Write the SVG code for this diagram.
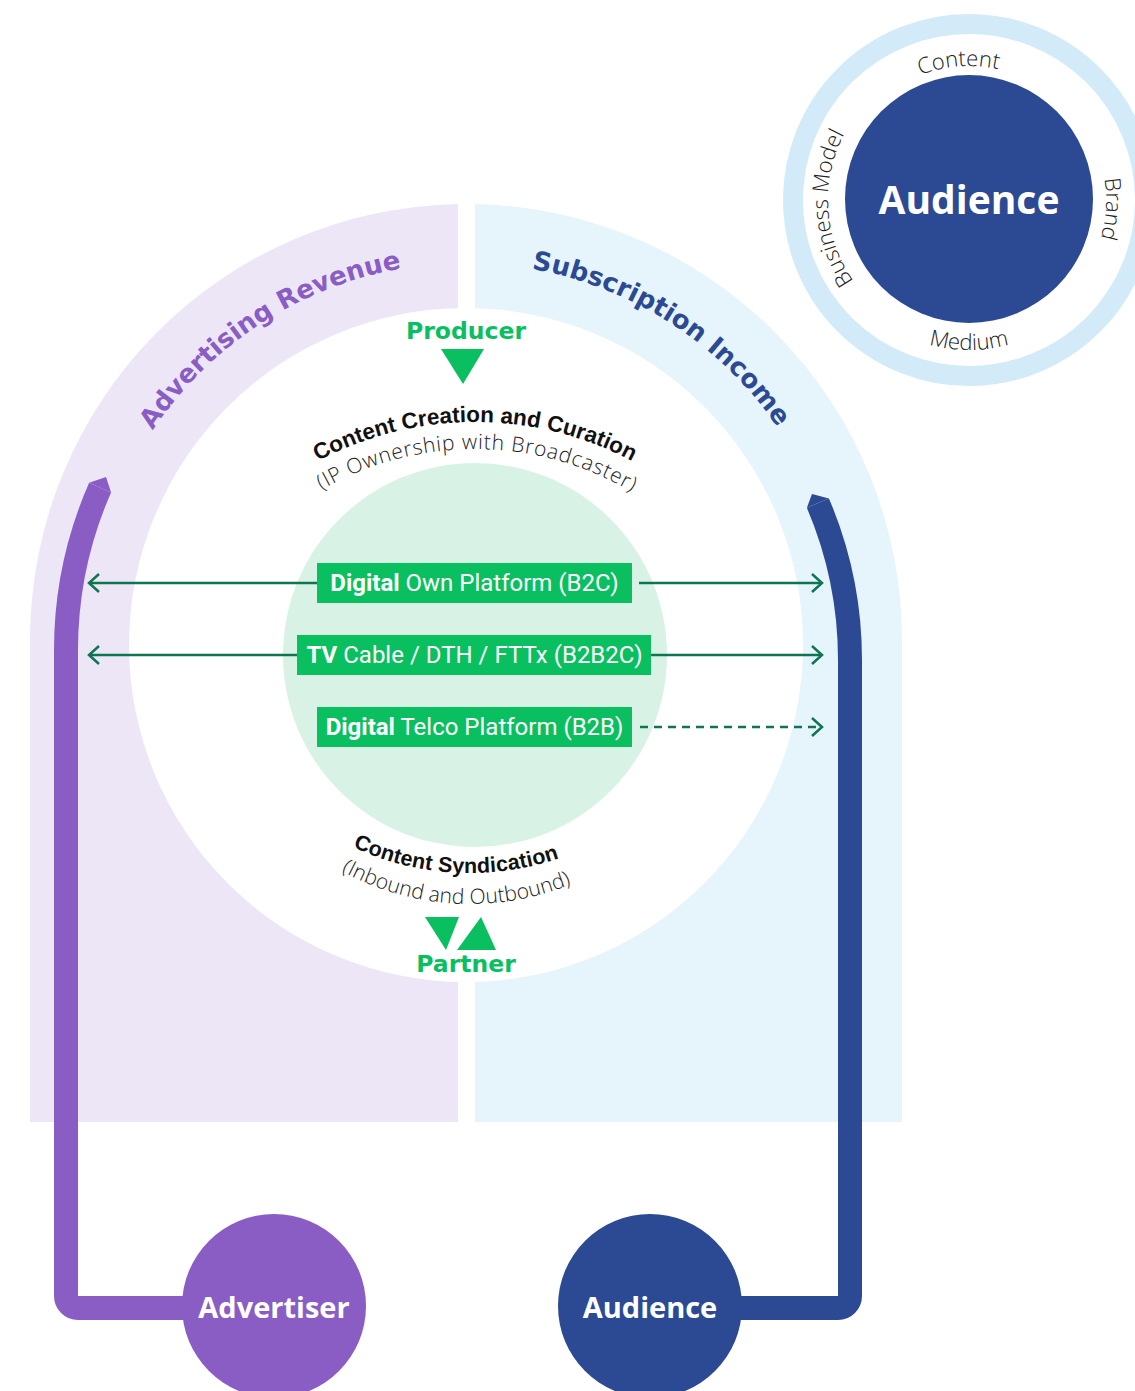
<svg xmlns="http://www.w3.org/2000/svg" width="1135" height="1391" viewBox="0 0 1135 1391">
<style>
.arcTitle{font-family:"DejaVu Sans",Verdana,sans-serif;font-weight:bold;font-size:26px}
.role{font-family:"DejaVu Sans",Verdana,sans-serif;font-weight:bold;font-size:23.5px;fill:#0ABF5F;text-anchor:middle}
.curveBold{font-family:"Liberation Sans",Arial,sans-serif;font-weight:bold;font-size:22.5px;fill:#111}
.curveLight{font-family:"Open Sans","Liberation Sans",sans-serif;font-weight:300;font-size:21px;fill:#222}
.ring{font-family:"Open Sans","Liberation Sans",sans-serif;font-weight:300;font-size:22px;fill:#222}
.box{fill:#0ABF5F}
.boxText{font-family:Roboto,"Liberation Sans",sans-serif;font-size:24px;fill:#fff;text-anchor:middle}
.nodeText{font-family:"Open Sans","Liberation Sans",sans-serif;font-weight:bold;fill:#fff;text-anchor:middle}
.arrow{fill:none;stroke:#0E7552;stroke-width:2.5}
.bar{fill:none;stroke-width:24;stroke-linejoin:round}
</style>
<defs>
<marker id="chev" viewBox="0 0 14 22" refX="12" refY="11" markerWidth="14" markerHeight="22" markerUnits="userSpaceOnUse" orient="auto">
<path d="M2,2 L12,11 L2,20" fill="none" stroke="#0E7552" stroke-width="2.5"/>
</marker>
<path id="pAdv" d="M89,640 A377,377 0 0 1 466,263"/>
<path id="pSub" d="M466,263 A377,377 0 0 1 843,640"/>
<path id="pCC1" d="M184.9,589.5 A335,335 0 0 1 765.1,589.5"/>
<path id="pCC2" d="M208.3,603 A308,308 0 0 1 741.7,603"/>
<path id="pCS1" d="M230.1,734.5 A277,277 0 0 0 709.9,734.5"/>
<path id="pCS2" d="M238.8,770.5 A267,267 0 0 0 701.2,770.5"/>
<path id="pBM" d="M969,341 A141,141 0 1 1 969,59 A141,141 0 1 1 969,341"/>
<path id="pCon" d="M969,334 A134,134 0 1 1 969,66 A134,134 0 1 1 969,334"/>
<path id="pBr" d="M969,337 A137,137 0 1 1 969,63 A137,137 0 1 1 969,337"/>
<path id="pMed" d="M819,200 A150,150 0 0 0 1119,200"/>
</defs>

<rect width="1135" height="1391" fill="#fff"/>

<g id="arch">
<path d="M30,1122 L30,640 A436,436 0 0 1 458,204.07 L458,1122 Z" fill="#EDE6F6"/>
<path d="M475,204.09 A436,436 0 0 1 902,640 L902,1122 L475,1122 Z" fill="#E6F4FC"/>
<circle cx="466" cy="645" r="337" fill="#fff"/>
<circle cx="475" cy="655" r="192" fill="#D8F3E6"/>
<text class="arcTitle" fill="#8A5DC4"><textPath href="#pAdv" startOffset="63.3%" text-anchor="middle">Advertising Revenue</textPath></text>
<text class="arcTitle" fill="#2C4A93"><textPath href="#pSub" startOffset="36.5%" text-anchor="middle">Subscription Income</textPath></text>
</g>

<g id="content-creation">
<text class="curveBold"><textPath href="#pCC1" startOffset="50%" text-anchor="middle" textLength="327" lengthAdjust="spacing">Content Creation and Curation</textPath></text>
<text class="curveLight"><textPath href="#pCC2" startOffset="50.3%" text-anchor="middle" textLength="325" lengthAdjust="spacing">(IP Ownership with Broadcaster)</textPath></text>
</g>

<g id="content-syndication">
<text class="curveBold" style="font-size:21.5px"><textPath href="#pCS1" startOffset="47.4%" text-anchor="middle" textLength="212" lengthAdjust="spacing">Content Syndication</textPath></text>
<text class="curveLight"><textPath href="#pCS2" startOffset="47.3%" text-anchor="middle" textLength="238" lengthAdjust="spacing">(Inbound and Outbound)</textPath></text>
</g>

<g id="producer">
<text class="role" x="466" y="339">Producer</text>
<polygon points="441,349 484,349 463,384" fill="#0ABF5F"/>
</g>

<g id="partner">
<polygon points="425,917 459,917 446,950" fill="#0ABF5F"/>
<polygon points="481,917 496,950 457,950" fill="#0ABF5F"/>
<text class="role" x="466" y="972">Partner</text>
</g>

<g id="connectors">
<path class="arrow" d="M317,583 L89,583" marker-end="url(#chev)"/>
<path class="arrow" d="M639,583 L822,583" marker-end="url(#chev)"/>
<path class="arrow" d="M297,655 L89,655" marker-end="url(#chev)"/>
<path class="arrow" d="M651,655 L822,655" marker-end="url(#chev)"/>
<path class="arrow" d="M640,727 L822,727" stroke-dasharray="8 6" marker-end="url(#chev)"/>
<path class="bar" stroke="#8A5DC4" d="M274,1308 L78,1308 A12,12 0 0 1 66,1296 L66,650 A404,404 0 0 1 100.1,487.6"/>
<polygon points="89.1,482.8 106,477 111.1,492.4" fill="#8A5DC4"/>
<path class="bar" stroke="#2C4A93" d="M650,1308 L838,1308 A12,12 0 0 0 850,1296 L850,660 A400,400 0 0 0 817.9,503.1"/>
<polygon points="828.9,498.4 812,494 806.9,507.8" fill="#2C4A93"/>
</g>

<g id="box-b2c">
<rect class="box" x="317" y="563" width="315" height="40"/>
<text class="boxText" x="474.5" y="591"><tspan font-weight="700">Digital</tspan> Own Platform (B2C)</text>
</g>
<g id="box-b2b2c">
<rect class="box" x="297" y="635" width="354" height="40"/>
<text class="boxText" x="474.5" y="663"><tspan font-weight="700">TV</tspan> Cable / DTH / FTTx (B2B2C)</text>
</g>
<g id="box-b2b">
<rect class="box" x="317" y="707" width="315" height="40"/>
<text class="boxText" x="474.5" y="735"><tspan font-weight="700">Digital</tspan> Telco Platform (B2B)</text>
</g>

<g id="advertiser">
<circle cx="274" cy="1306" r="92" fill="#8A5DC4"/>
<text class="nodeText" x="274" y="1318" font-size="29">Advertiser</text>
</g>
<g id="audience-bottom">
<circle cx="650" cy="1306" r="92" fill="#2C4A93"/>
<text class="nodeText" x="650" y="1318" font-size="29">Audience</text>
</g>

<g id="audience-top">
<circle cx="969" cy="200" r="176" fill="#fff" stroke="#D3EBF8" stroke-width="20"/>
<circle cx="969" cy="199" r="124" fill="#2C4A93"/>
<text class="nodeText" x="969" y="214" font-size="39">Audience</text>
<text class="ring"><textPath href="#pCon" startOffset="48.8%" text-anchor="middle">Content</textPath></text>
<text class="ring"><textPath href="#pBr" startOffset="76%" text-anchor="middle">Brand</textPath></text>
<text class="ring"><textPath href="#pMed" startOffset="50%" text-anchor="middle">Medium</textPath></text>
<text class="ring"><textPath href="#pBM" startOffset="24%" text-anchor="middle">Business Model</textPath></text>
</g>
</svg>
